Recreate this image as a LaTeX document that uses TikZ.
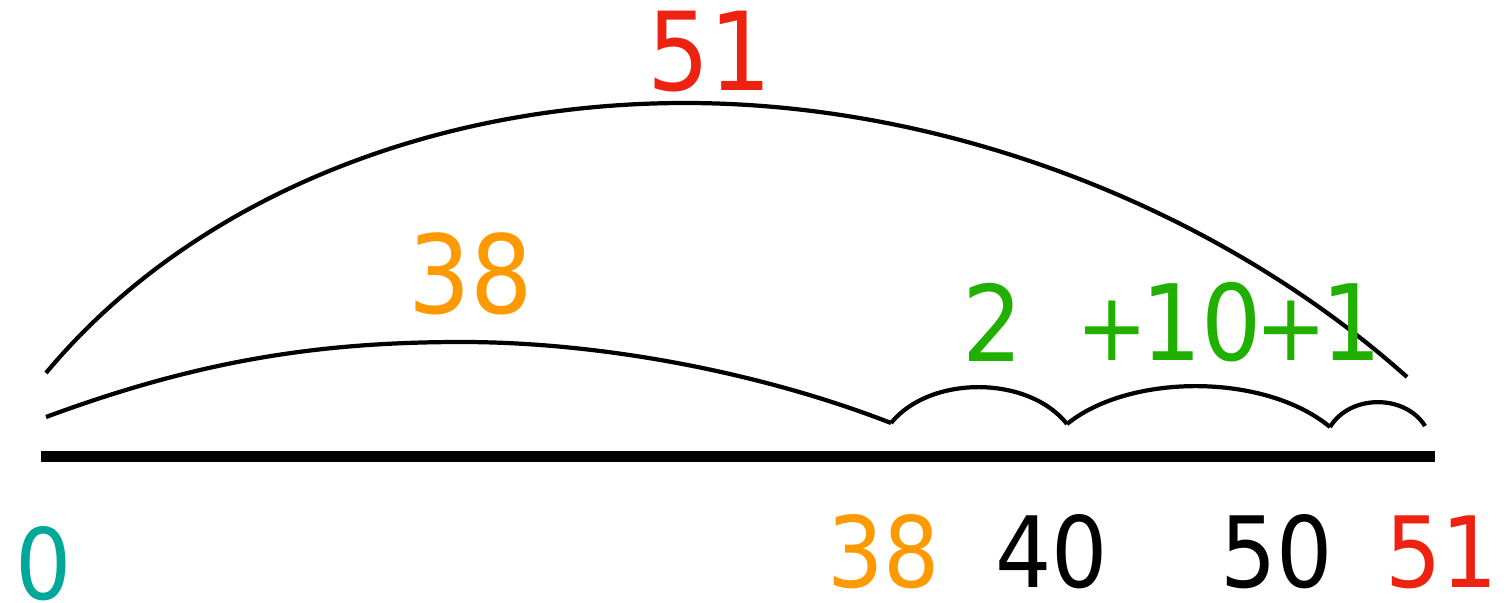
\documentclass[tikz,border=0pt]{standalone}
\usepackage{fontspec}
\setmainfont{DejaVu Sans Condensed}
\usetikzlibrary{positioning,calc}
\definecolor{numred}{HTML}{EE2211}
\definecolor{numorange}{HTML}{FF9900}
\definecolor{numgreen}{HTML}{22B000}
\definecolor{numteal}{HTML}{00A89A}
\newcommand{\jplus}{\kern-0.06em\scalebox{0.9}{+}\kern-0.06em}

\begin{document}
\begin{tikzpicture}[x=0.02cm,y=-0.02cm,
  every node/.style={inner sep=0pt,font=\fontsize{56}{60}\selectfont},
  toplabel/.style={font=\fontsize{62}{66}\selectfont},
  steplabel/.style={font=\fontsize{60}{64}\selectfont,text=numgreen},
  jump/.style={line width=2.4pt},
  axis/.style={line width=0.22cm}]
  \useasboundingbox (0,0) rectangle (1510,602);
  \coordinate (lineL) at (41,456);
  \coordinate (lineR) at (1435,456);
  \coordinate (bigL) at (46,373);
  \coordinate (bigT) at (685,103);
  \coordinate (bigR) at (1407,377);
  \coordinate (j0) at (46,417);
  \coordinate (j38) at (891,423);
  \coordinate (j40) at (1067,424);
  \coordinate (j50) at (1330,427);
  \coordinate (j51) at (1425,426);
  \draw[axis] (lineL) -- (lineR);
  \draw[jump] (bigL) .. controls (190,200) and (430,103) .. (bigT)
    .. controls (950,103) and (1220,210) .. (bigR);
  \draw[jump] (j0) .. controls (200,360) and (320,342) .. (462,342)
    .. controls (600,342) and (760,372) .. (j38);
  \draw[jump] (j38) .. controls (930,375) and (1028,375) .. (j40);
  \draw[jump] (j40) .. controls (1130,373) and (1265,373) .. (j50);
  \draw[jump] (j50) .. controls (1350,394) and (1405,394) .. (j51);
  \node[toplabel,text=numred] (t51) at (710,52) {51};
  \node[toplabel,text=numorange] (t38) at (471,274) {38};
  \node[steplabel] (t2) at (993,322) {2};
  \node[steplabel] (t11) at (1232,322) {\jplus10\jplus1};
  \node[text=numteal] (b0) at (44,564) {0};
  \node[text=numorange] (b38) at (884,552) {38};
  \node (b40) at (1052,552) {40};
  \node (b50) at (1277,552) {50};
  \node[text=numred] (b51) at (1442,552) {51};
\end{tikzpicture}
\end{document}
